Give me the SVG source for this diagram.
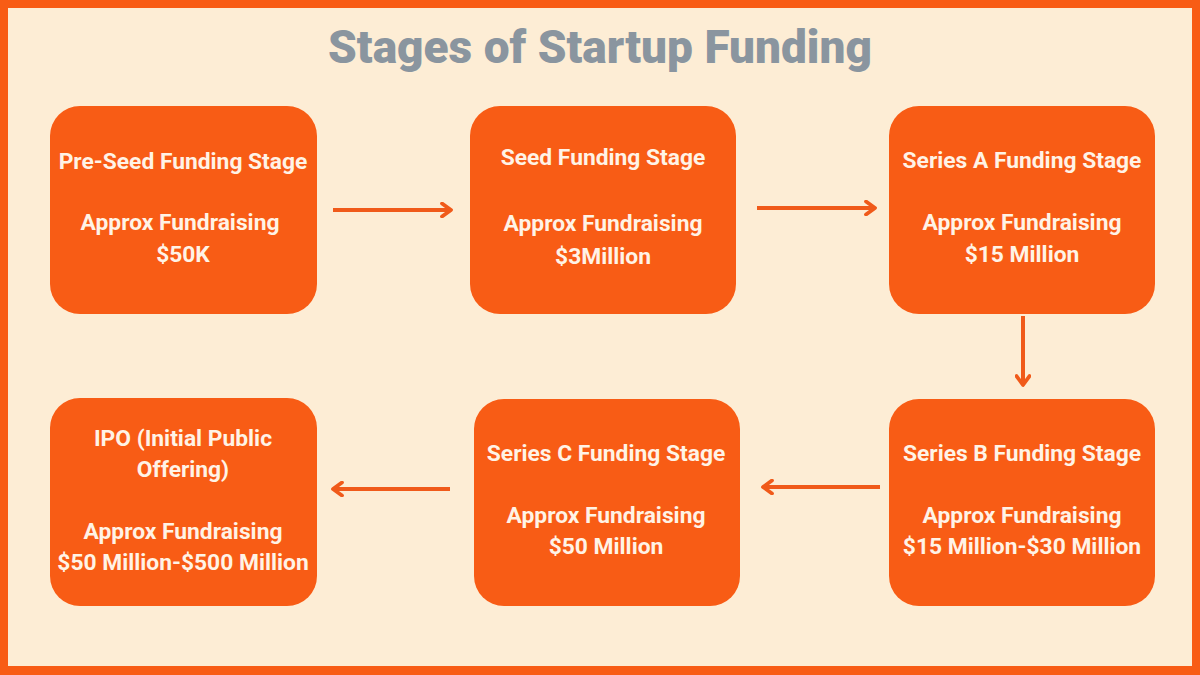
<svg xmlns="http://www.w3.org/2000/svg" width="1200" height="675" viewBox="0 0 1200 675">
<style>
.box{fill:#F85C15}
.t{font-family:Roboto,"Liberation Sans",sans-serif;font-weight:700;font-size:22.8px;fill:#FFF3E6;text-anchor:middle}
.c{stroke:#F05A1A;stroke-width:4;fill:none}
.title{font-family:Roboto,"Liberation Sans",sans-serif;font-weight:900;font-size:46px;fill:#8A959F;text-anchor:middle}
</style>
<defs>
<marker id="ah" viewBox="0 0 14 16" refX="12" refY="8" markerWidth="14" markerHeight="16" markerUnits="userSpaceOnUse" orient="auto">
<path d="M3,1.5 L12,8 L3,14.5" fill="none" stroke="#F05A1A" stroke-width="3.8" stroke-linecap="round" stroke-linejoin="round"/>
</marker>
</defs>
<rect x="0" y="0" width="1200" height="675" fill="#F85C15"/>
<rect x="8" y="8" width="1184" height="658" fill="#FDEDD5"/>
<text class="title" x="600" y="63">Stages of Startup Funding</text>
<g id="connectors">
<line class="c" x1="333" y1="210" x2="451" y2="210" marker-end="url(#ah)"/>
<line class="c" x1="757" y1="208" x2="875" y2="208" marker-end="url(#ah)"/>
<line class="c" x1="1023" y1="316" x2="1023" y2="385" marker-end="url(#ah)"/>
<line class="c" x1="880" y1="487" x2="763" y2="487" marker-end="url(#ah)"/>
<line class="c" x1="450" y1="489" x2="333" y2="489" marker-end="url(#ah)"/>
</g>
<g id="preseed">
<rect class="box" x="50" y="106" width="267" height="208" rx="30"/>
<text class="t" x="183" y="169">Pre-Seed Funding Stage</text>
<text class="t" x="180" y="230">Approx Fundraising</text>
<text class="t" x="183" y="262">$50K</text>
</g>
<g id="seed">
<rect class="box" x="470" y="106" width="266" height="208" rx="30"/>
<text class="t" x="603" y="165">Seed Funding Stage</text>
<text class="t" x="603" y="231">Approx Fundraising</text>
<text class="t" x="603" y="264">$3Million</text>
</g>
<g id="seriesA">
<rect class="box" x="889" y="106" width="266" height="208" rx="30"/>
<text class="t" x="1022" y="168">Series A Funding Stage</text>
<text class="t" x="1022" y="230">Approx Fundraising</text>
<text class="t" x="1022" y="262">$15 Million</text>
</g>
<g id="seriesB">
<rect class="box" x="889" y="399" width="266" height="207" rx="30"/>
<text class="t" x="1022" y="461">Series B Funding Stage</text>
<text class="t" x="1022" y="523">Approx Fundraising</text>
<text class="t" x="1022" y="554">$15 Million-$30 Million</text>
</g>
<g id="seriesC">
<rect class="box" x="474" y="399" width="266" height="207" rx="30"/>
<text class="t" x="606" y="461">Series C Funding Stage</text>
<text class="t" x="606" y="523">Approx Fundraising</text>
<text class="t" x="606" y="554">$50 Million</text>
</g>
<g id="ipo">
<rect class="box" x="50" y="398" width="267" height="208" rx="30"/>
<text class="t" x="183" y="446">IPO (Initial Public</text>
<text class="t" x="183" y="477">Offering)</text>
<text class="t" x="183" y="539">Approx Fundraising</text>
<text class="t" x="183" y="570">$50 Million-$500 Million</text>
</g>
</svg>
